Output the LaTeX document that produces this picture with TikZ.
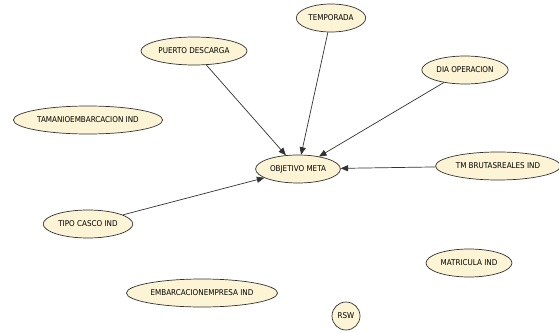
\documentclass[tikz,border=0pt]{standalone}
\usepackage{fontspec}
\setmainfont{DejaVu Sans Condensed}
\usetikzlibrary{shapes.geometric, arrows}
\definecolor{nodecream}{RGB}{252,244,212}
\definecolor{edgegray}{RGB}{50,50,50}
\tikzstyle{varnode} = [ellipse, minimum height=28pt, inner xsep=2pt, inner ysep=1pt, text centered, draw=edgegray, line width=0.7pt, fill=nodecream, font=\fontsize{8}{9.5}\selectfont]
\tikzstyle{arrow} = [line width=0.7pt, draw=edgegray, ->, >=triangle 45]

\begin{document}
\begin{tikzpicture}[x=1pt, y=-1pt]
\useasboundingbox (0,0) rectangle (559,332);

\node at (331, 18) (temporada) [varnode] {TEMPORADA};
\node at (194, 51) (puerto) [varnode] {PUERTO DESCARGA};
\node at (465, 70) (dia) [varnode] {DIA OPERACION};
\node at (88, 120) (tamanio) [varnode] {TAMANIOEMBARCACION IND};
\node at (298, 169) (objetivo) [varnode] {OBJETIVO META};
\node at (498, 166) (tmbrutas) [varnode] {TM BRUTASREALES IND};
\node at (88, 224) (tipocasco) [varnode] {TIPO CASCO IND};
\node at (469, 263) (matricula) [varnode] {MATRICULA IND};
\node at (202, 293) (embarcacion) [varnode] {EMBARCACIONEMPRESA IND};
\node at (346, 316) (rsw) [varnode, circle, minimum size=28pt, inner sep=1pt] {RSW};

\draw [arrow] (puerto) -- (objetivo);
\draw [arrow] (temporada) -- (objetivo);
\draw [arrow] (dia) -- (objetivo);
\draw [arrow] (tmbrutas) -- (objetivo);
\draw [arrow] (tipocasco) -- (objetivo);

\end{tikzpicture}
\end{document}
